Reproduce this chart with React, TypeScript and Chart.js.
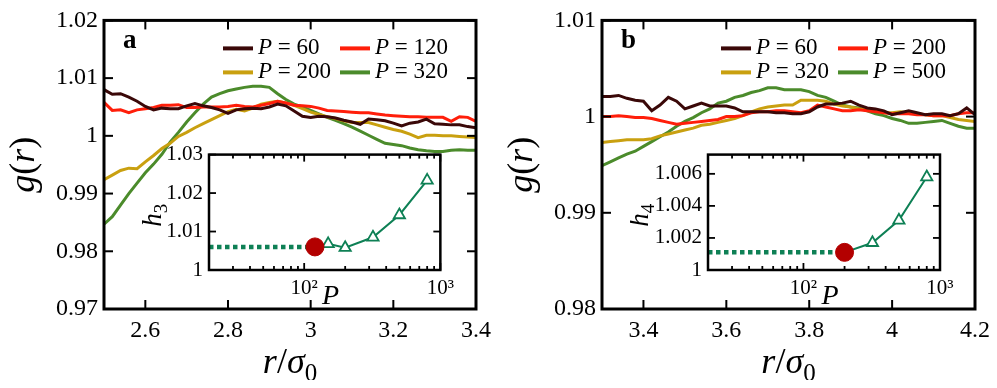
import React, { useEffect, useRef } from 'react';
import { Chart, registerables } from 'chart.js';

Chart.register(...registerables);

const FONT = "'Liberation Serif', serif";
Chart.defaults.font.family = FONT;

// ---------------- Panel a ----------------
const rA = [2.50, 2.52, 2.54, 2.56, 2.58, 2.60, 2.62, 2.64, 2.66, 2.68, 2.70, 2.72, 2.74, 2.76, 2.78, 2.80, 2.82, 2.84, 2.86, 2.88, 2.90, 2.92, 2.94, 2.96, 2.98, 3.00, 3.02, 3.04, 3.06, 3.08, 3.10, 3.12, 3.14, 3.16, 3.18, 3.20, 3.22, 3.24, 3.26, 3.28, 3.30, 3.32, 3.34, 3.36, 3.38, 3.40];
const pA = [60, 120, 200, 320];
const gA60 = [1.0080, 1.0072, 1.0073, 1.0067, 1.0060, 1.0051, 1.0045, 1.0048, 1.0047, 1.0047, 1.0052, 1.0056, 1.0052, 1.0049, 1.0045, 1.0039, 1.0045, 1.0047, 1.0048, 1.0047, 1.0050, 1.0055, 1.0052, 1.0043, 1.0034, 1.0032, 1.0034, 1.0033, 1.0031, 1.0027, 1.0024, 1.0020, 1.0029, 1.0028, 1.0026, 1.0022, 1.0017, 1.0022, 1.0024, 1.0029, 1.0021, 1.0020, 1.0019, 1.0019, 1.0016, 1.0014];
const gA120 = [1.0058, 1.0044, 1.0045, 1.0040, 1.0045, 1.0047, 1.0049, 1.0053, 1.0053, 1.0054, 1.0049, 1.0049, 1.0050, 1.0050, 1.0050, 1.0051, 1.0053, 1.0051, 1.0050, 1.0053, 1.0056, 1.0060, 1.0057, 1.0053, 1.0052, 1.0051, 1.0048, 1.0044, 1.0043, 1.0042, 1.0041, 1.0040, 1.0040, 1.0038, 1.0036, 1.0035, 1.0034, 1.0033, 1.0033, 1.0032, 1.0032, 1.0032, 1.0025, 1.0033, 1.0032, 1.0025];
const gA200 = [0.9924, 0.9932, 0.9940, 0.9944, 0.9943, 0.9955, 0.9966, 0.9978, 0.9987, 0.9999, 1.0006, 1.0014, 1.0021, 1.0028, 1.0035, 1.0042, 1.0046, 1.0043, 1.0048, 1.0055, 1.0058, 1.0060, 1.0057, 1.0053, 1.0047, 1.0041, 1.0037, 1.0033, 1.0030, 1.0026, 1.0023, 1.0023, 1.0023, 1.0019, 1.0015, 1.0011, 1.0008, 1.0003, 0.9997, 1.0001, 1.0001, 1.0000, 1.0000, 0.9999, 0.9998, 0.9997];
const gA320 = [0.9847, 0.9860, 0.9880, 0.9900, 0.9918, 0.9936, 0.9951, 0.9968, 0.9989, 1.0006, 1.0024, 1.0040, 1.0055, 1.0067, 1.0073, 1.0078, 1.0081, 1.0084, 1.0086, 1.0086, 1.0084, 1.0073, 1.0063, 1.0055, 1.0050, 1.0044, 1.0038, 1.0032, 1.0027, 1.0021, 1.0015, 1.0008, 1.0001, 0.9994, 0.9987, 0.9985, 0.9983, 0.9979, 0.9976, 0.9974, 0.9973, 0.9973, 0.9975, 0.9976, 0.9975, 0.9975];
const xRangeA = [2.5, 3.4];
const yRangeA = [0.97, 1.02];
const xTicksA = [2.6, 2.8, 3.0, 3.2, 3.4];
const xLabelsA = ['2.6', '2.8', '3', '3.2', '3.4'];
const yTicksA = [0.97, 0.98, 0.99, 1.0, 1.01, 1.02];
const yLabelsA = ['0.97', '0.98', '0.99', '1', '1.01', '1.02'];

// ---------------- Panel b ----------------
const rB = [3.30, 3.32, 3.34, 3.36, 3.38, 3.40, 3.42, 3.44, 3.46, 3.48, 3.50, 3.52, 3.54, 3.56, 3.58, 3.60, 3.62, 3.64, 3.66, 3.68, 3.70, 3.72, 3.74, 3.76, 3.78, 3.80, 3.82, 3.84, 3.86, 3.88, 3.90, 3.92, 3.94, 3.96, 3.98, 4.00, 4.02, 4.04, 4.06, 4.08, 4.10, 4.12, 4.14, 4.16, 4.18, 4.20];
const pB = [60, 200, 320, 500];
const gB60 = [1.0021, 1.0021, 1.0022, 1.0019, 1.0017, 1.0016, 1.0006, 1.0012, 1.0020, 1.0016, 1.0008, 1.0011, 1.0014, 1.0011, 1.0011, 1.0011, 1.0009, 1.0005, 1.0005, 1.0005, 1.0005, 1.0004, 1.0004, 1.0003, 1.0003, 1.0005, 1.0010, 1.0013, 1.0013, 1.0014, 1.0016, 1.0012, 1.0009, 1.0008, 1.0006, 1.0002, 1.0004, 1.0006, 1.0004, 1.0002, 1.0003, 1.0003, 1.0001, 1.0003, 1.0009, 1.0002];
const gB200 = [1.0000, 1.0000, 1.0001, 1.0000, 0.9999, 0.9999, 0.9998, 0.9996, 0.9994, 0.9992, 0.9993, 0.9994, 0.9995, 0.9996, 0.9997, 1.0000, 1.0000, 1.0001, 1.0004, 1.0005, 1.0005, 1.0006, 1.0006, 1.0005, 1.0004, 1.0006, 1.0012, 1.0010, 1.0008, 1.0006, 1.0006, 1.0007, 1.0006, 1.0005, 1.0004, 1.0003, 1.0003, 1.0003, 1.0002, 1.0002, 1.0001, 1.0001, 1.0001, 1.0003, 1.0004, 1.0004];
const gB320 = [0.9973, 0.9974, 0.9975, 0.9976, 0.9976, 0.9976, 0.9977, 0.9980, 0.9982, 0.9984, 0.9986, 0.9988, 0.9991, 0.9992, 0.9994, 0.9996, 0.9998, 1.0001, 1.0005, 1.0008, 1.0010, 1.0011, 1.0012, 1.0012, 1.0017, 1.0017, 1.0017, 1.0016, 1.0013, 1.0011, 1.0010, 1.0008, 1.0008, 1.0006, 1.0004, 1.0004, 1.0005, 1.0004, 1.0003, 1.0002, 1.0001, 1.0001, 0.9999, 0.9997, 0.9996, 0.9995];
const gB500 = [0.9949, 0.9953, 0.9957, 0.9961, 0.9964, 0.9969, 0.9974, 0.9979, 0.9984, 0.9990, 0.9995, 0.9999, 1.0004, 1.0008, 1.0014, 1.0016, 1.0020, 1.0022, 1.0025, 1.0027, 1.0030, 1.0030, 1.0028, 1.0028, 1.0028, 1.0026, 1.0022, 1.0020, 1.0016, 1.0012, 1.0010, 1.0009, 1.0006, 1.0003, 1.0001, 0.9998, 0.9996, 0.9993, 0.9993, 0.9994, 0.9995, 0.9996, 0.9993, 0.9990, 0.9988, 0.9988];
const xRangeB = [3.3, 4.2];
const yRangeB = [0.98, 1.01];
const xTicksB = [3.4, 3.6, 3.8, 4.0, 4.2];
const xLabelsB = ['3.4', '3.6', '3.8', '4', '4.2'];
const yTicksB = [0.98, 0.99, 1.0, 1.01];
const yLabelsB = ['0.98', '0.99', '1', '1.01'];

// ---------------- Insets ----------------
const insetPRange = [20, 1000];
const insetXTicks = [20, 30, 40, 50, 60, 70, 80, 90, 100, 200, 300, 400, 500, 600, 700, 800, 900, 1000];
const insetMajorTicks = [100, 1000];
const insetMajorLabels = ['10²', '10³'];

const insetPA = [150, 200, 320, 500, 800];
const insetHA = [1.0068, 1.0058, 1.0085, 1.0143, 1.0233];
const dotPA = 120;
const dotHA = 1.006;
const insetYRangeA = [1.0, 1.03];
const insetYTicksA = [1.0, 1.01, 1.02, 1.03];
const insetYLabelsA = ['1', '1.01', '1.02', '1.03'];

const insetPB = [320, 500, 800];
const insetHB = [1.0017, 1.0031, 1.0058];
const dotPB = 200;
const dotHB = 1.0011;
const insetYRangeB = [1.0, 1.0072];
const insetYTicksB = [1.0, 1.002, 1.004, 1.006];
const insetYLabelsB = ['1', '1.002', '1.004', '1.006'];

const SERIES_COLORS = ['#3a0808', '#ff1e0a', '#c9a010', '#4b8b2b'];
const INSET_GREEN = '#0e8055';
const DOT_RED = '#b30000';

type Run = { t: string; it?: boolean; sub?: boolean; bold?: boolean };

function drawRuns(ctx: CanvasRenderingContext2D, runs: Run[], x: number, y: number, size: number, align: 'left' | 'center', rot = 0) {
  ctx.save();
  ctx.translate(x, y);
  if (rot) ctx.rotate(rot);
  ctx.textBaseline = 'alphabetic';
  ctx.textAlign = 'left';
  ctx.fillStyle = '#000';
  const font = (r: Run) => `${r.it ? 'italic ' : ''}${r.bold ? 'bold ' : ''}${r.sub ? Math.round(size * 0.7) : size}px ${FONT}`;
  const widths = runs.map((r) => {
    ctx.font = font(r);
    return ctx.measureText(r.t).width;
  });
  const total = widths.reduce((a, b) => a + b, 0);
  let cx = align === 'center' ? -total / 2 : 0;
  runs.forEach((r, i) => {
    ctx.font = font(r);
    ctx.fillText(r.t, cx, r.sub ? size * 0.22 : 0);
    cx += widths[i];
  });
  ctx.restore();
}

function line(ctx: CanvasRenderingContext2D, x1: number, y1: number, x2: number, y2: number) {
  ctx.beginPath();
  ctx.moveTo(x1, y1);
  ctx.lineTo(x2, y2);
  ctx.stroke();
}

type DecorCfg = {
  frameW: number;
  tickW: number;
  major: number;
  minor: number;
  majorX?: number[];
  fillWhite?: boolean;
  draw?: (chart: any) => void;
};

function makeDecor(cfg: DecorCfg) {
  return {
    id: 'decor',
    beforeDraw(chart: any) {
      if (!cfg.fillWhite) return;
      const a = chart.chartArea;
      const ctx = chart.ctx;
      ctx.save();
      ctx.fillStyle = '#fff';
      ctx.fillRect(a.left, a.top, a.right - a.left, a.bottom - a.top);
      ctx.restore();
    },
    afterDatasetsDraw(chart: any) {
      const ctx: CanvasRenderingContext2D = chart.ctx;
      const a = chart.chartArea;
      const xs = chart.scales.x;
      const ys = chart.scales.y;
      ctx.save();
      ctx.strokeStyle = '#000';
      ctx.lineWidth = cfg.tickW;
      xs.ticks.forEach((t: any) => {
        const px = xs.getPixelForValue(t.value);
        const len = cfg.majorX && !cfg.majorX.includes(t.value) ? cfg.minor : cfg.major;
        line(ctx, px, a.bottom, px, a.bottom - len);
        line(ctx, px, a.top, px, a.top + len);
      });
      ys.ticks.forEach((t: any) => {
        const py = ys.getPixelForValue(t.value);
        line(ctx, a.left, py, a.left + cfg.major, py);
        line(ctx, a.right, py, a.right - cfg.major, py);
      });
      ctx.lineWidth = cfg.frameW;
      ctx.strokeRect(a.left, a.top, a.right - a.left, a.bottom - a.top);
      if (cfg.draw) cfg.draw(chart);
      ctx.restore();
    },
  };
}

function mainChart(
  canvas: HTMLCanvasElement,
  panel: string,
  r: number[],
  series: number[][],
  pVals: number[],
  xRange: number[],
  yRange: number[],
  xTicks: number[],
  xLabels: string[],
  yTicks: number[],
  yLabels: string[],
  padRight: number
) {
  const datasets = series.map((g, i) => ({
    label: `P = ${pVals[i]}`,
    data: r.map((x, j) => ({ x, y: g[j] })),
    borderColor: SERIES_COLORS[i],
    backgroundColor: SERIES_COLORS[i],
    borderWidth: 3,
    pointRadius: 0,
    tension: 0,
    fill: false,
  }));
  const decor = makeDecor({
    frameW: 3,
    tickW: 2,
    major: 9,
    minor: 9,
    draw: (chart: any) => {
      const ctx: CanvasRenderingContext2D = chart.ctx;
      const a = chart.chartArea;
      drawRuns(ctx, [{ t: 'g', it: true }, { t: '(' }, { t: 'r', it: true }, { t: ')' }], a.left - 70, (a.top + a.bottom) / 2, 36, 'center', -Math.PI / 2);
      drawRuns(ctx, [{ t: 'r', it: true }, { t: '/' }, { t: 'σ', it: true }, { t: '0', sub: true }], (a.left + a.right) / 2, 373, 36, 'center');
      drawRuns(ctx, [{ t: panel, bold: true }], a.left + 19, a.top + 28, 27, 'left');
      chart.data.datasets.forEach((ds: any, i: number) => {
        const col = i % 2;
        const row = Math.floor(i / 2);
        const lx = a.left + (col === 0 ? 119 : 236);
        const ly = a.top + 28 + row * 24;
        ctx.strokeStyle = ds.borderColor;
        ctx.lineWidth = 4;
        line(ctx, lx, ly, lx + 30, ly);
        drawRuns(ctx, [{ t: 'P', it: true }, { t: ' = ' + pVals[i] }], lx + 35, ly + 6, 23, 'left');
      });
    },
  });
  return new Chart(canvas, {
    type: 'line',
    data: { datasets },
    plugins: [decor],
    options: {
      responsive: false,
      maintainAspectRatio: false,
      animation: false,
      layout: { padding: { left: 0, top: 14, right: padRight, bottom: 0 } },
      plugins: { legend: { display: false }, tooltip: { enabled: false } },
      scales: {
        x: {
          type: 'linear',
          min: xRange[0],
          max: xRange[1],
          grid: { display: false, drawTicks: false },
          border: { display: false },
          afterBuildTicks: (s: any) => {
            s.ticks = xTicks.map((v) => ({ value: v }));
          },
          afterFit: (s: any) => {
            s.height = 79;
          },
          ticks: {
            autoSkip: false,
            maxRotation: 0,
            padding: 7,
            color: '#000',
            font: { family: FONT, size: 24 },
            callback: (_v: any, i: number) => xLabels[i],
          },
        },
        y: {
          type: 'linear',
          min: yRange[0],
          max: yRange[1],
          grid: { display: false, drawTicks: false },
          border: { display: false },
          afterBuildTicks: (s: any) => {
            s.ticks = yTicks.map((v) => ({ value: v }));
          },
          afterFit: (s: any) => {
            s.width = 104;
          },
          ticks: {
            autoSkip: false,
            padding: 6,
            color: '#000',
            font: { family: FONT, size: 24 },
            callback: (_v: any, i: number) => yLabels[i],
          },
        },
      },
    } as any,
  });
}

function insetChart(
  canvas: HTMLCanvasElement,
  sub: string,
  pts: number[],
  hs: number[],
  dotP: number,
  dotH: number,
  yRange: number[],
  yTicks: number[],
  yLabels: string[],
  yAxisWidth: number,
  padRight: number,
  hTitleOffset: number
) {
  const lineData = [{ x: dotP, y: dotH }, ...pts.map((p, i) => ({ x: p, y: hs[i] }))];
  const decor = makeDecor({
    frameW: 2.5,
    tickW: 1.8,
    major: 7,
    minor: 4,
    majorX: insetMajorTicks,
    fillWhite: true,
    draw: (chart: any) => {
      const ctx: CanvasRenderingContext2D = chart.ctx;
      const a = chart.chartArea;
      drawRuns(ctx, [{ t: 'h', it: true }, { t: sub, sub: true }], a.left - hTitleOffset, (a.top + a.bottom) / 2 + 3, 27, 'center', -Math.PI / 2);
      drawRuns(ctx, [{ t: 'P', it: true }], (a.left + a.right) / 2 + 6, a.bottom + 34, 28, 'center');
    },
  });
  return new Chart(canvas, {
    type: 'line',
    data: {
      datasets: [
        {
          data: [{ x: dotP, y: dotH }],
          showLine: false,
          pointRadius: 9,
          pointStyle: 'circle',
          pointBackgroundColor: DOT_RED,
          pointBorderColor: DOT_RED,
          borderColor: DOT_RED,
        },
        {
          data: lineData,
          borderColor: INSET_GREEN,
          borderWidth: 2,
          pointStyle: 'triangle',
          pointRadius: (c: any) => (c.dataIndex === 0 ? 0 : 6.5),
          pointBorderWidth: 1.8,
          pointBorderColor: INSET_GREEN,
          pointBackgroundColor: '#fff',
          tension: 0,
        },
        {
          data: [{ x: insetPRange[0], y: dotH }, { x: dotP, y: dotH }],
          borderColor: INSET_GREEN,
          borderWidth: 4.5,
          borderDash: [4.5, 3.5],
          pointRadius: 0,
          tension: 0,
        },
      ],
    },
    plugins: [decor],
    options: {
      responsive: false,
      maintainAspectRatio: false,
      animation: false,
      layout: { padding: { left: 0, top: 14, right: padRight, bottom: 0 } },
      plugins: { legend: { display: false }, tooltip: { enabled: false } },
      scales: {
        x: {
          type: 'logarithmic',
          min: insetPRange[0],
          max: insetPRange[1],
          grid: { display: false, drawTicks: false },
          border: { display: false },
          afterBuildTicks: (s: any) => {
            s.ticks = insetXTicks.map((v) => ({ value: v }));
          },
          afterFit: (s: any) => {
            s.height = 42;
          },
          ticks: {
            autoSkip: false,
            maxRotation: 0,
            padding: 6,
            color: '#000',
            font: { family: FONT, size: 21 },
            callback: (v: any) => {
              const k = insetMajorTicks.indexOf(Number(v));
              return k >= 0 ? insetMajorLabels[k] : '';
            },
          },
        },
        y: {
          type: 'linear',
          min: yRange[0],
          max: yRange[1],
          grid: { display: false, drawTicks: false },
          border: { display: false },
          afterBuildTicks: (s: any) => {
            s.ticks = yTicks.map((v) => ({ value: v }));
          },
          afterFit: (s: any) => {
            s.width = yAxisWidth;
          },
          ticks: {
            autoSkip: false,
            padding: 6,
            color: '#000',
            font: { family: FONT, size: 21 },
            callback: (_v: any, i: number) => yLabels[i],
          },
        },
      },
    } as any,
  });
}

export default function App() {
  const aRef = useRef<HTMLCanvasElement>(null);
  const bRef = useRef<HTMLCanvasElement>(null);
  const iaRef = useRef<HTMLCanvasElement>(null);
  const ibRef = useRef<HTMLCanvasElement>(null);

  useEffect(() => {
    const charts: Chart[] = [];
    charts.push(mainChart(aRef.current!, 'a', rA, [gA60, gA120, gA200, gA320], pA, xRangeA, yRangeA, xTicksA, xLabelsA, yTicksA, yLabelsA, 20));
    charts.push(mainChart(bRef.current!, 'b', rB, [gB60, gB200, gB320, gB500], pB, xRangeB, yRangeB, xTicksB, xLabelsB, yTicksB, yLabelsB, 22));
    charts.push(insetChart(iaRef.current!, '3', insetPA, insetHA, dotPA, dotHA, insetYRangeA, insetYTicksA, insetYLabelsA, 69, 17, 48));
    charts.push(insetChart(ibRef.current!, '4', insetPB, insetHB, dotPB, dotHB, insetYRangeB, insetYTicksB, insetYLabelsB, 78, 20, 60));
    let alive = true;
    const redraw = () => {
      if (alive) charts.forEach((c) => c.update());
    };
    const t = setTimeout(redraw, 150);
    const fs: any = (document as any).fonts;
    if (fs && fs.ready) fs.ready.then(redraw);
    return () => {
      alive = false;
      clearTimeout(t);
      charts.forEach((c) => c.destroy());
    };
  }, []);

  return (
    <div style={{ position: 'relative', width: 997, height: 388, margin: -8, overflow: 'hidden' }}>
      <canvas ref={aRef} width={498} height={388} style={{ position: 'absolute', left: 0, top: 0 }} />
      <canvas ref={bRef} width={499} height={388} style={{ position: 'absolute', left: 498, top: 0 }} />
      <canvas ref={iaRef} width={320} height={176} style={{ position: 'absolute', left: 140, top: 136 }} />
      <canvas ref={ibRef} width={330} height={176} style={{ position: 'absolute', left: 630, top: 136 }} />
    </div>
  );
}
